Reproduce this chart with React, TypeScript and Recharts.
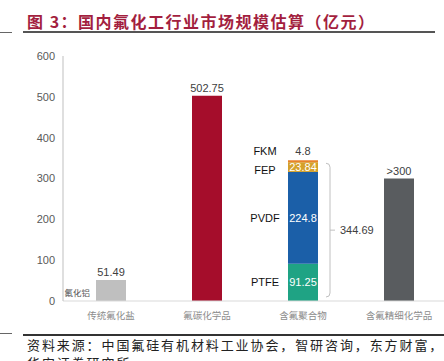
import React from 'react';
import { BarChart, Bar, XAxis, YAxis, Cell, LabelList } from 'recharts';

const categories = ['传统氟化盐', '氟碳化学品', '含氟聚合物', '含氟精细化学品'];
const singleValues = [51.49, 502.75, null, 300];
const singleLabels = ['51.49', '502.75', '', '>300'];
const singleColors = ['#bfbfbf', '#a50d2b', '#ffffff', '#595c5f'];
const polymerNames = ['PTFE', 'PVDF', 'FEP', 'FKM'];
const polymerValues = [91.25, 224.8, 23.84, 4.8];
const polymerColors = ['#1fa384', '#1b5fa8', '#d4a12a', '#e8822a'];
const polymerIndex = 2;
const polymerTotal = 344.69;
const yTicks = [0, 100, 200, 300, 400, 500, 600];
const aluminumLabel = '氟化铝';

const data = categories.map((name, i) => {
  const row: Record<string, any> = { name, single: singleValues[i] };
  polymerNames.forEach((p, j) => {
    row[p] = i === polymerIndex ? polymerValues[j] : null;
  });
  return row;
});

const numFont = '"Liberation Sans", Arial, sans-serif';
const cjkFont = '"Noto Sans CJK SC", sans-serif';

const SingleLabel = (props: any) => {
  const { x, y, width, height, value } = props;
  if (value == null) return null;
  const i = singleValues.findIndex((v) => v === Number(value));
  if (i < 0) return null;
  return (
    <g>
      <text x={x + width / 2} y={y - 4} textAnchor="middle" fontSize={11} fill="#404040" fontFamily={numFont}>
        {singleLabels[i]}
      </text>
      {i === 0 && (
        <text x={x - 6} y={y + height - 5} textAnchor="end" fontSize={8.5} fill="#555" fontFamily={cjkFont}>
          {aluminumLabel}
        </text>
      )}
    </g>
  );
};

const makePolymerLabel = (j: number) => (props: any) => {
  const { x, y, width, height, value } = props;
  if (value == null) return null;
  const cx = x + width / 2;
  const nameX = x - 23;
  const elems: any[] = [];
  if (j === 3) {
    elems.push(
      <text key="v" x={cx} y={y - 5} textAnchor="middle" fontSize={11} fill="#404040" fontFamily={numFont}>
        {String(polymerValues[j])}
      </text>
    );
    elems.push(
      <text key="n" x={nameX} y={y - 5} textAnchor="middle" fontSize={11} fill="#111" fontFamily={numFont}>
        {polymerNames[j]}
      </text>
    );
  } else {
    const cy = y + height / 2;
    elems.push(
      <text key="v" x={cx} y={cy} dy="0.36em" textAnchor="middle" fontSize={11} fill="#ffffff" fontFamily={numFont}>
        {String(polymerValues[j])}
      </text>
    );
    elems.push(
      <text key="n" x={nameX} y={cy + (j === 2 ? 3 : 0)} dy="0.36em" textAnchor="middle" fontSize={11} fill="#111" fontFamily={numFont}>
        {polymerNames[j]}
      </text>
    );
  }
  if (j === 0) {
    const bottom = y + height;
    const scale = height / Number(value);
    const top = bottom - polymerTotal * scale;
    const bx = x + width + 12;
    const t = top + 3;
    const b = bottom - 4;
    const mid = (t + b) / 2;
    elems.push(
      <path
        key="br"
        d={`M ${bx - 4} ${t} Q ${bx} ${t} ${bx} ${t + 4} L ${bx} ${b - 4} Q ${bx} ${b} ${bx - 4} ${b} M ${bx} ${mid} L ${bx + 5} ${mid}`}
        stroke="#c0c0c0"
        strokeWidth={1}
        fill="none"
      />
    );
    elems.push(
      <text key="tot" x={bx + 10} y={mid} dy="0.36em" textAnchor="start" fontSize={11} fill="#404040" fontFamily={numFont}>
        {String(polymerTotal)}
      </text>
    );
  }
  return <g>{elems}</g>;
};

export default function App() {
  return (
    <div style={{ position: 'absolute', left: 0, top: 0, width: 444, height: 361, overflow: 'hidden', background: '#fff' }}>
      <div style={{ position: 'absolute', left: 0, top: 32, width: 12, height: 1, background: '#666' }} />
      <div style={{ position: 'absolute', left: 23, top: 31, width: 412, height: 2, background: '#555' }} />
      <div
        style={{
          position: 'absolute',
          left: 27,
          top: 10,
          fontSize: 16,
          lineHeight: '22px',
          fontWeight: 'bold',
          color: '#a31f3f',
          letterSpacing: 1.5,
          whiteSpace: 'nowrap',
          fontFamily: cjkFont,
        }}
      >
        图 3：国内氟化工行业市场规模估算（亿元）
      </div>
      <div style={{ position: 'absolute', left: 0, top: 0 }}>
        <BarChart width={460} height={361} data={data} margin={{ top: 56, right: 13, bottom: 30, left: 0 }}>
          <XAxis
            dataKey="name"
            axisLine={{ stroke: '#d9d9d9' }}
            tickLine={false}
            height={30}
            tickMargin={5}
            interval={0}
            tick={{ fontSize: 9.5, fill: '#8c8c8c', fontFamily: cjkFont }}
          />
          <YAxis
            width={63}
            domain={[0, 600]}
            ticks={yTicks}
            axisLine={{ stroke: '#bfbfbf' }}
            tickLine={false}
            tick={{ fontSize: 11, fill: '#595959', fontFamily: numFont }}
          />
          <Bar dataKey="single" stackId="s" barSize={30} isAnimationActive={false}>
            {data.map((_, i) => (
              <Cell key={i} fill={singleColors[i]} />
            ))}
            <LabelList dataKey="single" content={SingleLabel} />
          </Bar>
          {polymerNames.map((p, j) => (
            <Bar key={p} dataKey={p} stackId="s" barSize={30} fill={polymerColors[j]} isAnimationActive={false}>
              <LabelList dataKey={p} content={makePolymerLabel(j)} />
            </Bar>
          ))}
        </BarChart>
      </div>
      <div style={{ position: 'absolute', left: 0, top: 333, width: 12, height: 1, background: '#666' }} />
      <div style={{ position: 'absolute', left: 23, top: 334, width: 421, height: 2, background: '#333' }} />
      <div
        style={{
          position: 'absolute',
          left: 27,
          top: 336,
          fontSize: 13,
          lineHeight: '18px',
          color: '#222',
          letterSpacing: 1.9,
          whiteSpace: 'nowrap',
          fontFamily: cjkFont,
        }}
      >
        资料来源：中国氟硅有机材料工业协会，智研咨询，东方财富，
        <br />
        华安证券研究所
      </div>
    </div>
  );
}
